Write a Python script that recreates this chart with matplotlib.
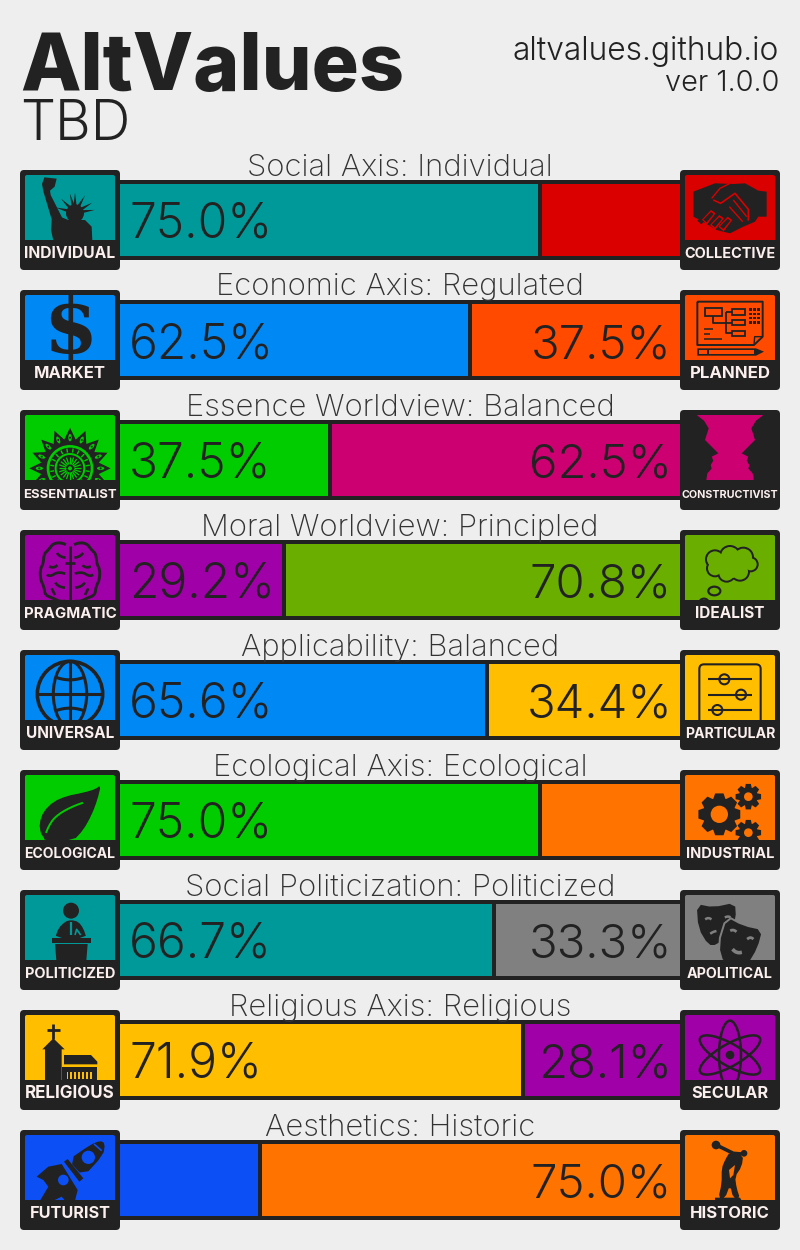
import numpy as np
import matplotlib
matplotlib.use("Agg")
import matplotlib.pyplot as plt
from matplotlib.patches import Polygon, Circle, Ellipse, Rectangle, FancyBboxPatch
from matplotlib.textpath import TextPath
from matplotlib.font_manager import FontProperties

# ---------- data ----------
axis_titles = ["Social Axis: Individual", "Economic Axis: Regulated", "Essence Worldview: Balanced",
               "Moral Worldview: Principled", "Applicability: Balanced", "Ecological Axis: Ecological",
               "Social Politicization: Politicized", "Religious Axis: Religious", "Aesthetics: Historic"]
left_names = ["INDIVIDUAL", "MARKET", "ESSENTIALIST", "PRAGMATIC", "UNIVERSAL", "ECOLOGICAL",
              "POLITICIZED", "RELIGIOUS", "FUTURIST"]
right_names = ["COLLECTIVE", "PLANNED", "CONSTRUCTIVIST", "IDEALIST", "PARTICULAR", "INDUSTRIAL",
               "APOLITICAL", "SECULAR", "HISTORIC"]
left_values = [75.0, 62.5, 37.5, 29.2, 65.6, 75.0, 66.7, 71.9, 25.0]
right_values = [25.0, 37.5, 62.5, 70.8, 34.4, 25.0, 33.3, 28.1, 75.0]
left_colors = ["#009999", "#0088F5", "#00CC00", "#A000A8", "#0088F5", "#00CC00", "#009999", "#FFBE00", "#0B4FF5"]
right_colors = ["#DA0000", "#FF4A00", "#CC0070", "#6AAF00", "#FFBE00", "#FF7300", "#808080", "#A000A8", "#FF7300"]
label_widths = {"INDIVIDUAL": 90, "MARKET": 70, "ESSENTIALIST": 92, "PRAGMATIC": 91, "UNIVERSAL": 87,
                "ECOLOGICAL": 90, "POLITICIZED": 89, "RELIGIOUS": 88, "FUTURIST": 79, "COLLECTIVE": 90,
                "PLANNED": 79, "CONSTRUCTIVIST": 96, "IDEALIST": 68, "PARTICULAR": 90, "INDUSTRIAL": 87,
                "APOLITICAL": 85, "SECULAR": 76, "HISTORIC": 78}
HIDE_BELOW = 28.0

# ---------- style ----------
BG = "#EEEEEE"
DARK = "#222222"
LABEL = "#FBF0EE"
FONT = "Inter"
W, H = 800, 1250

plt.rcParams["font.family"] = [FONT, "DejaVu Sans"]
fig = plt.figure(figsize=(W / 100, H / 100), dpi=100, facecolor=BG)


def fit(text, weight, width):
    fp = FontProperties(family=FONT, weight=weight)
    w = TextPath((0, 0), text, size=10, prop=fp).get_extents().width
    return 10 * width / (w * 100 / 72)


def px_text(x, y, s, **kw):
    return fig.text(x / W, 1 - y / H, s, va="baseline", **kw)


def px_axes(x0, y0, x1, y1):
    return fig.add_axes([x0 / W, 1 - y1 / H, (x1 - x0) / W, (y1 - y0) / H])


def chaikin(pts, n=2, closed=True):
    p = np.asarray(pts, float)
    for _ in range(n):
        q = np.roll(p, -1, axis=0) if closed else p[1:]
        a = p if closed else p[:-1]
        r = np.empty((2 * len(a), 2))
        r[0::2] = 0.75 * a + 0.25 * q
        r[1::2] = 0.25 * a + 0.75 * q
        p = r
    return p


class Ic:
    """Icon canvas: a 300x300 box, inner art clipped to x 15..285, y 15..210."""

    def __init__(self, ax, col):
        self.ax, self.col = ax, col
        self.clip = Rectangle((15, 15), 270, 195, transform=ax.transData)

    def add(self, art):
        self.ax.add_patch(art)
        art.set_clip_path(self.clip)
        return art

    def poly(self, pts, c=DARK, smooth=0):
        p = chaikin(pts, smooth) if smooth else pts
        return self.add(Polygon(p, closed=True, fc=c, ec="none"))

    def circ(self, x, y, r, c=DARK, ec="none", lw=0):
        return self.add(Circle((x, y), r, fc=c, ec=ec, lw=lw))

    def line(self, pts, c=DARK, lw=1.7, smooth=0, closed=False):
        p = np.asarray(pts, float)
        if smooth:
            p = chaikin(p, smooth, closed)
        if closed:
            p = np.vstack([p, p[:1]])
        l, = self.ax.plot(p[:, 0], p[:, 1], color=c, lw=lw, solid_capstyle="butt", solid_joinstyle="round")
        l.set_clip_path(self.clip)
        return l

    def ell(self, x, y, w, h, ang=0, lw=1.7, fc="none", ec=DARK):
        return self.add(Ellipse((x, y), w, h, angle=ang, fc=fc, ec=ec, lw=lw))


def gear(ic, x, y, r0, r1, hole, teeth=8):
    pts = []
    for i in range(teeth):
        a = 2 * np.pi * i / teeth
        d = np.pi / teeth
        for da, r in [(-d * .95, r0), (-d * .5, r1), (d * .5, r1), (d * .95, r0)]:
            pts.append((x + r * np.cos(a + da), y + r * np.sin(a + da)))
    ic.poly(pts)
    ic.circ(x, y, hole, ic.col)


def statue(ic):
    ic.poly([(66, 42), (73, 22), (110, 26), (104, 50), (90, 62), (92, 75), (130, 150), (98, 158), (70, 64)])
    for a in np.radians([-165, -135, -105, -90, -60, -30, -8]):
        ic.poly([(165 + 20 * np.cos(a + .25), 128 + 20 * np.sin(a + .25)),
                 (165 + 60 * np.cos(a), 128 + 60 * np.sin(a)),
                 (165 + 20 * np.cos(a - .25), 128 + 20 * np.sin(a - .25))])
    ic.circ(165, 130, 27)
    ic.poly([(95, 150), (125, 142), (145, 150), (195, 150), (215, 170), (217, 212), (100, 212), (93, 180)])


def handshake(ic):
    ic.poly([(40, 65), (105, 40), (160, 42), (195, 40), (235, 62), (260, 65), (260, 140), (235, 140), (225, 155),
             (190, 170), (150, 190), (110, 180), (60, 150), (40, 140)])
    r = ic.col
    ic.line([(95, 85), (120, 55), (150, 40)], c=r, lw=1)
    ic.line([(100, 90), (122, 100), (165, 70), (205, 118), (205, 152)], c=r, lw=1.2)
    ic.line([(148, 110), (188, 155)], c=r, lw=1)
    ic.line([(160, 90), (200, 140)], c=r, lw=1)
    for x0, y0 in [(65, 150), (90, 165), (115, 170)]:
        ic.poly([(x0, y0), (x0 + 28, y0 - 30), (x0 + 42, y0 - 20), (x0 + 16, y0 + 14)], c=r)
        ic.poly([(x0 + 5, y0 - 1), (x0 + 28, y0 - 24), (x0 + 36, y0 - 18), (x0 + 15, y0 + 7)])
    ic.poly([(52, 152), (60, 145), (72, 155), (64, 163)])


def plan(ic):
    ic.line([(52, 35), (248, 35), (248, 140), (222, 165), (52, 165), (52, 35)], lw=1.4)
    ic.line([(248, 140), (224, 140), (222, 165)], lw=1)
    for b in [(75, 55, 50, 22), (155, 58, 40, 16), (155, 90, 40, 16), (155, 122, 40, 16)]:
        ic.add(Rectangle(b[:2], b[2], b[3], fc="none", ec=DARK, lw=1.3))
    ic.line([(100, 77), (100, 98), (138, 98)], lw=1.3)
    ic.line([(138, 66), (138, 130), (155, 130)], lw=1.3)
    ic.line([(138, 66), (155, 66)], lw=1.3)
    ic.line([(138, 98), (155, 98)], lw=1.3)
    for x in (208, 220, 232):
        for y in (55, 68, 81, 94):
            ic.add(Rectangle((x, y), 8, 7, fc=DARK, ec="none"))
    for y, x1 in [(118, 100), (132, 90), (146, 125)]:
        ic.line([(72, y), (x1, y)], lw=1.1)
    ic.poly([(52, 175), (228, 175), (252, 185), (228, 197), (52, 197)])
    ic.poly([(58, 181), (80, 181), (80, 191), (58, 191)], c=ic.col)
    ic.poly([(86, 181), (222, 181), (222, 191), (86, 191)], c=ic.col)


def dollar(ic):
    ic.ax.text(150, 122, "$", family="DejaVu Serif", weight="bold", fontsize=56, color=DARK,
               ha="center", va="center", clip_on=True)


def mandala(ic):
    cx, cy = 150, 175
    c = ic.col
    pts = []
    n = 16
    for i in range(2 * n):
        a = np.pi * i / n - np.pi / 2
        r = 122 if i % 2 == 0 else 88
        pts.append((cx + r * np.cos(a), cy + r * np.sin(a)))
    ic.poly(pts)
    for i in range(n):
        a = 2 * np.pi * i / n - np.pi / 2
        x, y = cx + 92 * np.cos(a), cy + 92 * np.sin(a)
        ic.ell(x, y, 26, 14, np.degrees(a), lw=.9, fc=c, ec=DARK)
        ic.circ(x, y, 3)
    ic.circ(cx, cy, 70, c)
    ic.circ(cx, cy, 62)
    ic.circ(cx, cy, 46, c)
    ic.circ(cx, cy, 40)
    for i in range(20):
        a = 2 * np.pi * i / 20
        ic.line([(cx + 12 * np.cos(a), cy + 12 * np.sin(a)), (cx + 34 * np.cos(a), cy + 34 * np.sin(a))], c=c, lw=.9)
        a2 = a + np.pi / 20
        ic.line([(cx + 48 * np.cos(a2), cy + 48 * np.sin(a2)), (cx + 60 * np.cos(a2), cy + 60 * np.sin(a2))], c=c, lw=1)
    ic.circ(cx, cy, 6, c)


def faces(ic):
    left = [(15, 15), (50, 15), (72, 32), (86, 55), (75, 90), (115, 130), (95, 140), (100, 152), (92, 165),
            (95, 176), (82, 190), (79, 210), (15, 210)]
    ic.poly(left)
    ic.poly([(300 - x, y) for x, y in left])


def brain(ic):
    c = 150
    left = [(145, 48), (125, 38), (100, 40), (85, 60), (72, 72), (70, 100), (60, 120), (62, 150), (72, 170),
            (75, 195), (100, 205), (120, 215), (145, 212)]
    for s in (1, -1):
        f = lambda P: [(c + s * (x - c), y) for x, y in P]
        ic.line(f(left), lw=2.1, smooth=2)
        ic.line(f([(147, 85), (120, 80), (105, 62)]), lw=1.9, smooth=2)
        ic.line(f([(80, 105), (100, 115), (120, 100)]), lw=1.9, smooth=2)
        ic.line(f([(148, 135), (115, 125), (90, 140), (75, 130)]), lw=1.9, smooth=2)
        ic.line(f([(147, 175), (115, 170), (100, 150)]), lw=1.9, smooth=2)
        ic.line(f([(95, 175), (105, 195)]), lw=1.9)
    ic.line([(150, 48), (150, 210)], lw=2.1)
    ic.line([(135, 100), (165, 100)], lw=1.9)


def cloud(ic):
    cs = [(105, 88, 30), (150, 78, 33), (190, 82, 32), (212, 103, 24), (180, 125, 30), (140, 130, 28), (105, 115, 27)]
    for x, y, r in cs:
        ic.circ(x, y, r)
    for x, y, r in cs:
        ic.circ(x, y, r - 6, ic.col)
    ic.circ(150, 105, 40, ic.col)
    ic.ell(103, 183, 36, 26, lw=1.6)
    ic.ell(72, 216, 26, 20, lw=1.6)


def globe(ic):
    cx, cy, r = 150, 132, 98
    ic.circ(cx, cy, r, "none", DARK, 2.6)
    ic.line([(cx, cy - r), (cx, cy + r)], lw=2.2)
    ic.line([(cx - r, cy), (cx + r, cy)], lw=2.2)
    ic.ell(cx, cy, 100, 2 * r, lw=2.2)
    for s in (1, -1):
        ic.line([(cx - 78, cy - s * 62), (cx, cy - s * 36), (cx + 78, cy - s * 62)], lw=2.2, smooth=3)


def sliders(ic):
    ic.add(FancyBboxPatch((65, 50), 170, 220, boxstyle="round,pad=7,rounding_size=14", fc="none", ec=DARK, lw=1.5))
    for y, kx in [(88, 133), (134, 183), (180, 112)]:
        ic.line([(85, y), (217, y)], lw=1.5)
        ic.circ(kx, y, 15, ic.col, DARK, 1.5)


def leaf(ic):
    ic.poly([(243, 45), (225, 58), (190, 68), (140, 78), (100, 95), (70, 125), (58, 160), (62, 190), (70, 200),
             (75, 212), (160, 212), (190, 180), (215, 135), (232, 90)], smooth=1)
    ic.line([(212, 90), (150, 112), (105, 140), (85, 170), (74, 200)], c=ic.col, lw=1.4, smooth=2)


def speaker(ic):
    ic.circ(153, 62, 24)
    ic.poly([(105, 145), (115, 115), (135, 95), (153, 90), (175, 95), (190, 115), (200, 145)], smooth=1)
    ic.line([(153, 95), (153, 135)], c=ic.col, lw=1.6)
    ic.line([(165, 135), (170, 118), (182, 135)], c=ic.col, lw=1.2)
    ic.poly([(96, 145), (212, 145), (212, 158), (96, 158)])
    ic.poly([(105, 162), (203, 162), (199, 212), (109, 212)])


def church(ic):
    ic.line([(100, 42), (100, 88)], lw=2)
    ic.line([(82, 60), (119, 60)], lw=2)
    ic.poly([(100, 85), (134, 118), (125, 118), (125, 212), (75, 212), (75, 118), (67, 118)])
    ic.poly([(132, 135), (213, 135), (232, 155), (232, 163), (132, 163)])
    ic.poly([(127, 170), (232, 170), (232, 212), (127, 212)])
    for x in np.linspace(142, 213, 7):
        ic.add(Rectangle((x - 2.5, 185), 5, 22, fc=ic.col, ec="none"))


def rocket(ic):
    ic.poly([(210, 45), (240, 32), (255, 40), (250, 75), (190, 140), (145, 90)], smooth=1)
    ic.circ(205, 82, 20, ic.col)
    ic.line([(222, 42), (245, 62)], c=ic.col, lw=1.2)
    ic.poly([(132, 95), (143, 87), (190, 145), (178, 155)])
    ic.poly([(50, 140), (85, 110), (125, 102), (173, 180), (165, 212), (135, 212), (125, 200), (100, 212),
             (60, 212), (85, 170), (70, 150)])
    ic.circ(130, 150, 16, ic.col)


def gears(ic):
    gear(ic, 118, 133, 50, 64, 26)
    gear(ic, 205, 80, 28, 39, 13)
    gear(ic, 205, 188, 28, 39, 13)


def masks(ic):
    g = ic.col
    ic.poly([(50, 42), (100, 52), (165, 38), (168, 85), (150, 130), (110, 165), (85, 165), (55, 115)], smooth=1)
    ic.line([(70, 92), (85, 82), (100, 92)], c=g, lw=1.8, smooth=2)
    ic.line([(128, 85), (145, 78), (155, 85)], c=g, lw=1.8, smooth=2)
    ic.line([(85, 135), (100, 125), (115, 122)], c=g, lw=1.8, smooth=2)
    back = [(140, 78), (190, 105), (250, 118), (235, 175), (205, 225), (130, 225), (113, 165)]
    ic.add(Polygon(chaikin(back, 1), closed=True, fc=DARK, ec=g, lw=1.4))
    ic.line([(145, 125), (160, 118), (175, 130)], c=g, lw=2, smooth=2)
    ic.line([(195, 152), (212, 140), (225, 152)], c=g, lw=2, smooth=2)
    ic.line([(150, 170), (170, 190), (195, 185)], c=g, lw=2.6, smooth=2)


def atom(ic):
    for ang in (90, 30, -30):
        ic.ell(150, 135, 206, 66, ang, lw=1.8)
    ic.circ(150, 135, 13)


def discus(ic):
    ic.circ(108, 45, 13)
    ic.circ(192, 70, 10)
    ic.line([(115, 48), (160, 70), (185, 72)], lw=2.6)
    ic.poly([(150, 65), (190, 75), (185, 110), (165, 140), (170, 175), (180, 205), (160, 205), (150, 165),
             (135, 205), (115, 205), (125, 160), (125, 115), (135, 90)], smooth=1)
    ic.poly([(147, 120), (165, 105), (160, 135), (150, 145)], c=ic.col)
    ic.poly([(105, 203), (180, 203), (185, 212), (105, 212)])


left_icons = [statue, dollar, mandala, brain, globe, leaf, speaker, church, rocket]
right_icons = [handshake, plan, faces, cloud, sliders, gears, masks, atom, discus]


def draw_icon(x0, y0, name, col, art):
    ax = px_axes(x0, y0, x0 + 100, y0 + 100)
    ax.set_xlim(0, 300)
    ax.set_ylim(300, 0)
    ax.axis("off")
    ax.patch.set_alpha(0)
    ax.add_patch(FancyBboxPatch((6, 6), 288, 288, boxstyle="round,pad=6,rounding_size=12", fc=DARK, ec="none"))
    ax.add_patch(FancyBboxPatch((21, 21), 258, 183, boxstyle="round,pad=6,rounding_size=6", fc=col, ec="none"))
    ax.add_patch(Rectangle((15, 120), 270, 90, fc=col, ec="none"))
    ic = Ic(ax, col)
    art(ic)
    ax.text(150, 265, name, ha="center", va="baseline", color=LABEL, weight=700,
            fontsize=fit(name, 700, label_widths[name]))


# ---------- header ----------
px_text(20, 90, "AltValues", color=DARK, weight=800, fontsize=fit("AltValues", 800, 380))
px_text(20, 140, "TBD", color=DARK, weight=300, fontsize=fit("TBD", 300, 104))
px_text(779, 60, "altvalues.github.io", color=DARK, weight=300, ha="right",
        fontsize=fit("altvalues.github.io", 300, 264))
px_text(779, 91, "ver 1.0.0", color=DARK, weight=300, ha="right", fontsize=fit("ver 1.0.0", 300, 112))

# ---------- rows ----------
for i in range(len(axis_titles)):
    top = 170 + 120 * i
    px_text(400, top + 5.5, axis_titles[i], color="#333333", weight=200, ha="center", fontsize=22.3)
    ax = px_axes(120, top + 10, 680, top + 90)
    ax.set_xlim(0, 100)
    ax.set_ylim(-0.5, 0.5)
    ax.set_facecolor(DARK)
    ax.set_xticks([])
    ax.set_yticks([])
    for s in ax.spines.values():
        s.set_visible(False)
    ax.barh(0, left_values[i], height=0.9, color=left_colors[i], linewidth=0)
    ax.barh(0, right_values[i], left=left_values[i], height=0.9, color=right_colors[i], linewidth=0)
    ax.axvline(left_values[i], color=DARK, lw=2.88)
    base = 22 / 80
    if left_values[i] >= HIDE_BELOW:
        ax.text(9 / 560, base, f"{left_values[i]:.1f}%", transform=ax.transAxes, color=DARK, weight=300,
                fontsize=34.5, ha="left", va="baseline")
    if right_values[i] >= HIDE_BELOW:
        ax.text(552 / 560, base, f"{right_values[i]:.1f}%", transform=ax.transAxes, color=DARK, weight=300,
                fontsize=34, ha="right", va="baseline")
    draw_icon(20, top, left_names[i], left_colors[i], left_icons[i])
    draw_icon(680, top, right_names[i], right_colors[i], right_icons[i])

fig.savefig("out.png", dpi=100, facecolor=BG)
